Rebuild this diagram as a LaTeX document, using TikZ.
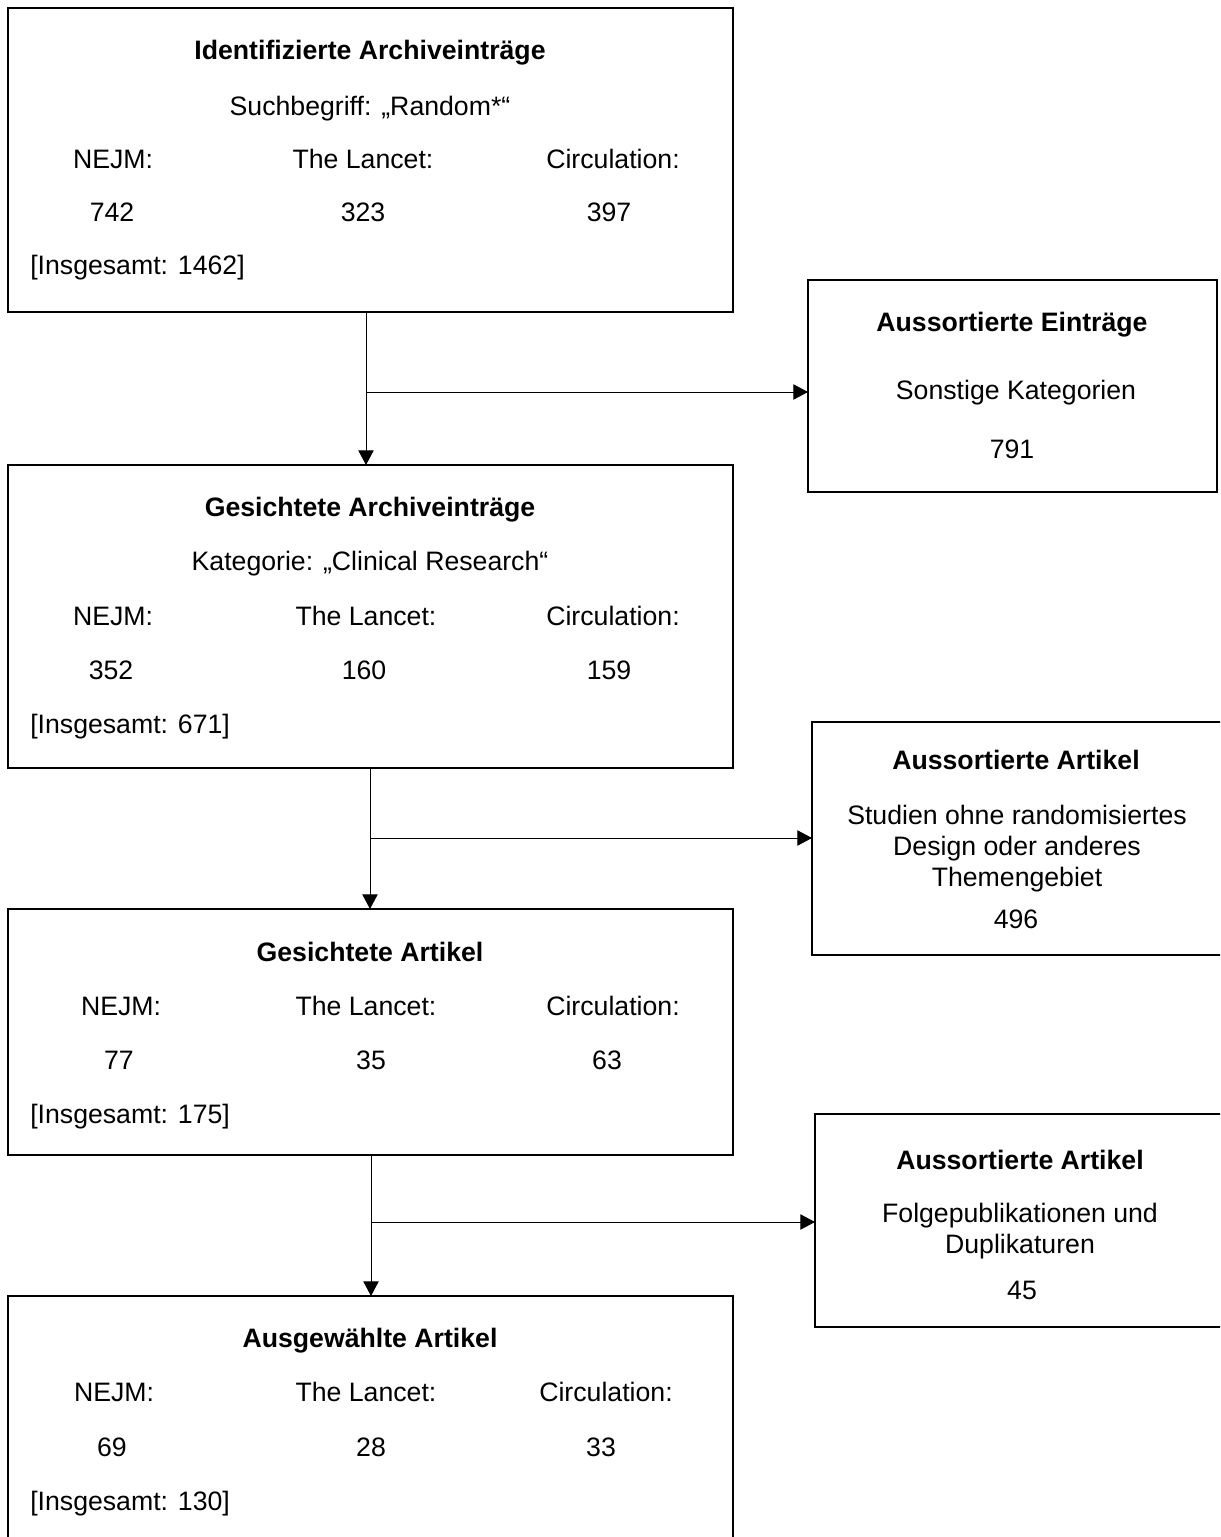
\documentclass[tikz,border=0pt]{standalone}
\usepackage{fontspec}
\setmainfont{Liberation Sans}
\usetikzlibrary{arrows.meta}

\newcommand{\pxl}{0.75pt}

\tikzset{
	kasten/.style={draw=black, line width=1.5pt, inner sep=0pt, outer sep=0pt},
	txt/.style={inner sep=0pt, font=\fontsize{20pt}{23.25pt}\selectfont, text height=14.3pt, text depth=0pt},
	titel/.style={txt, font=\fontsize{20pt}{23.25pt}\selectfont\bfseries},
	mehrzeilig/.style={inner sep=0pt, align=center, anchor=north, font=\fontsize{20pt}{23.25pt}\selectfont},
	pfeil/.style={-{Triangle[length=11pt, width=11.5pt]}, line width=0.75pt}
}

\begin{document}
\begin{tikzpicture}[x=0.75pt, y=-0.75pt]
	\clip (0, 0) rectangle (1220, 1537);
	\fill [white] (0, 0) rectangle (1220, 1537);
	
	% Kaesten links
	\node [kasten, minimum width=725*\pxl, minimum height=304*\pxl] (ident) at (370.5, 160) {};
	\node [kasten, minimum width=725*\pxl, minimum height=303*\pxl] (gesArch) at (370.5, 616.5) {};
	\node [kasten, minimum width=725*\pxl, minimum height=246*\pxl] (gesArt) at (370.5, 1032) {};
	\node [kasten, minimum width=725*\pxl, minimum height=264*\pxl] (ausgew) at (370.5, 1428) {};
	
	% Kaesten rechts
	\node [kasten, minimum width=409*\pxl, minimum height=212*\pxl] (outEin) at (1012.5, 386) {};
	\node [kasten, minimum width=420*\pxl, minimum height=233*\pxl] (outArt) at (1022, 838.5) {};
	\node [kasten, minimum width=417*\pxl, minimum height=213*\pxl] (outDup) at (1023.5, 1220.5) {};
	
	% Verzweigungen
	\coordinate (j1) at (366, 392);
	\coordinate (j2) at (370, 838);
	\coordinate (j3) at (371, 1222);
	
	\draw [pfeil] (ident.south -| j1) -- (gesArch.north -| j1);
	\draw [pfeil] (j1) -- (outEin.west |- j1);
	\draw [pfeil] (gesArch.south -| j2) -- (gesArt.north -| j2);
	\draw [pfeil] (j2) -- (outArt.west |- j2);
	\draw [pfeil] (gesArt.south -| j3) -- (ausgew.north -| j3);
	\draw [pfeil] (j3) -- (outDup.west |- j3);
	
	% Identifizierte Archiveintraege
	\node [titel] (id-titel) at (370, 50) {Identifizierte Archiveinträge};
	\node [txt] (id-such) at (370, 106) {Suchbegriff: „Random*“};
	\node [txt] (id-nejm) at (113, 159) {NEJM:};
	\node [txt] (id-lancet) at (363, 159) {The Lancet:};
	\node [txt] (id-circ) at (613, 159) {Circulation:};
	\node [txt] (id-n1) at (112, 212) {742};
	\node [txt] (id-n2) at (363, 212) {323};
	\node [txt] (id-n3) at (609, 212) {397};
	\node [txt, anchor=west] (id-summe) at (30, 265) {[Insgesamt: 1462]};
	
	% Gesichtete Archiveintraege
	\node [titel] (ga-titel) at (370, 507) {Gesichtete Archiveinträge};
	\node [txt] (ga-kat) at (370, 561) {Kategorie: „Clinical Research“};
	\node [txt] (ga-nejm) at (113, 616) {NEJM:};
	\node [txt] (ga-lancet) at (366, 616) {The Lancet:};
	\node [txt] (ga-circ) at (613, 616) {Circulation:};
	\node [txt] (ga-n1) at (111, 670) {352};
	\node [txt] (ga-n2) at (364, 670) {160};
	\node [txt] (ga-n3) at (609, 670) {159};
	\node [txt, anchor=west] (ga-summe) at (30, 724) {[Insgesamt: 671]};
	
	% Gesichtete Artikel
	\node [titel] (gt-titel) at (370, 952) {Gesichtete Artikel};
	\node [txt] (gt-nejm) at (121, 1006) {NEJM:};
	\node [txt] (gt-lancet) at (366, 1006) {The Lancet:};
	\node [txt] (gt-circ) at (613, 1006) {Circulation:};
	\node [txt] (gt-n1) at (119, 1060) {77};
	\node [txt] (gt-n2) at (371, 1060) {35};
	\node [txt] (gt-n3) at (607, 1060) {63};
	\node [txt, anchor=west] (gt-summe) at (30, 1114) {[Insgesamt: 175]};
	
	% Ausgewaehlte Artikel
	\node [titel] (aw-titel) at (370, 1338) {Ausgewählte Artikel};
	\node [txt] (aw-nejm) at (114, 1392) {NEJM:};
	\node [txt] (aw-lancet) at (366, 1392) {The Lancet:};
	\node [txt] (aw-circ) at (606, 1392) {Circulation:};
	\node [txt] (aw-n1) at (112, 1447) {69};
	\node [txt] (aw-n2) at (371, 1447) {28};
	\node [txt] (aw-n3) at (601, 1447) {33};
	\node [txt, anchor=west] (aw-summe) at (30, 1501) {[Insgesamt: 130]};
	
	% Aussortiert
	\node [titel] (oe-titel) at (1012, 322) {Aussortierte Einträge};
	\node [txt] (oe-text) at (1016, 390) {Sonstige Kategorien};
	\node [txt] (oe-zahl) at (1012, 449) {791};
	
	\node [titel] (oa-titel) at (1016, 760) {Aussortierte Artikel};
	\node [mehrzeilig] (oa-text) at (1017, 805) {Studien ohne randomisiertes\\Design oder anderes\\Themengebiet};
	\node [txt] (oa-zahl) at (1016, 919) {496};
	
	\node [titel] (od-titel) at (1020, 1160) {Aussortierte Artikel};
	\node [mehrzeilig] (od-text) at (1020, 1203) {Folgepublikationen und\\Duplikaturen};
	\node [txt] (od-zahl) at (1022, 1290) {45};
\end{tikzpicture}
\end{document}
